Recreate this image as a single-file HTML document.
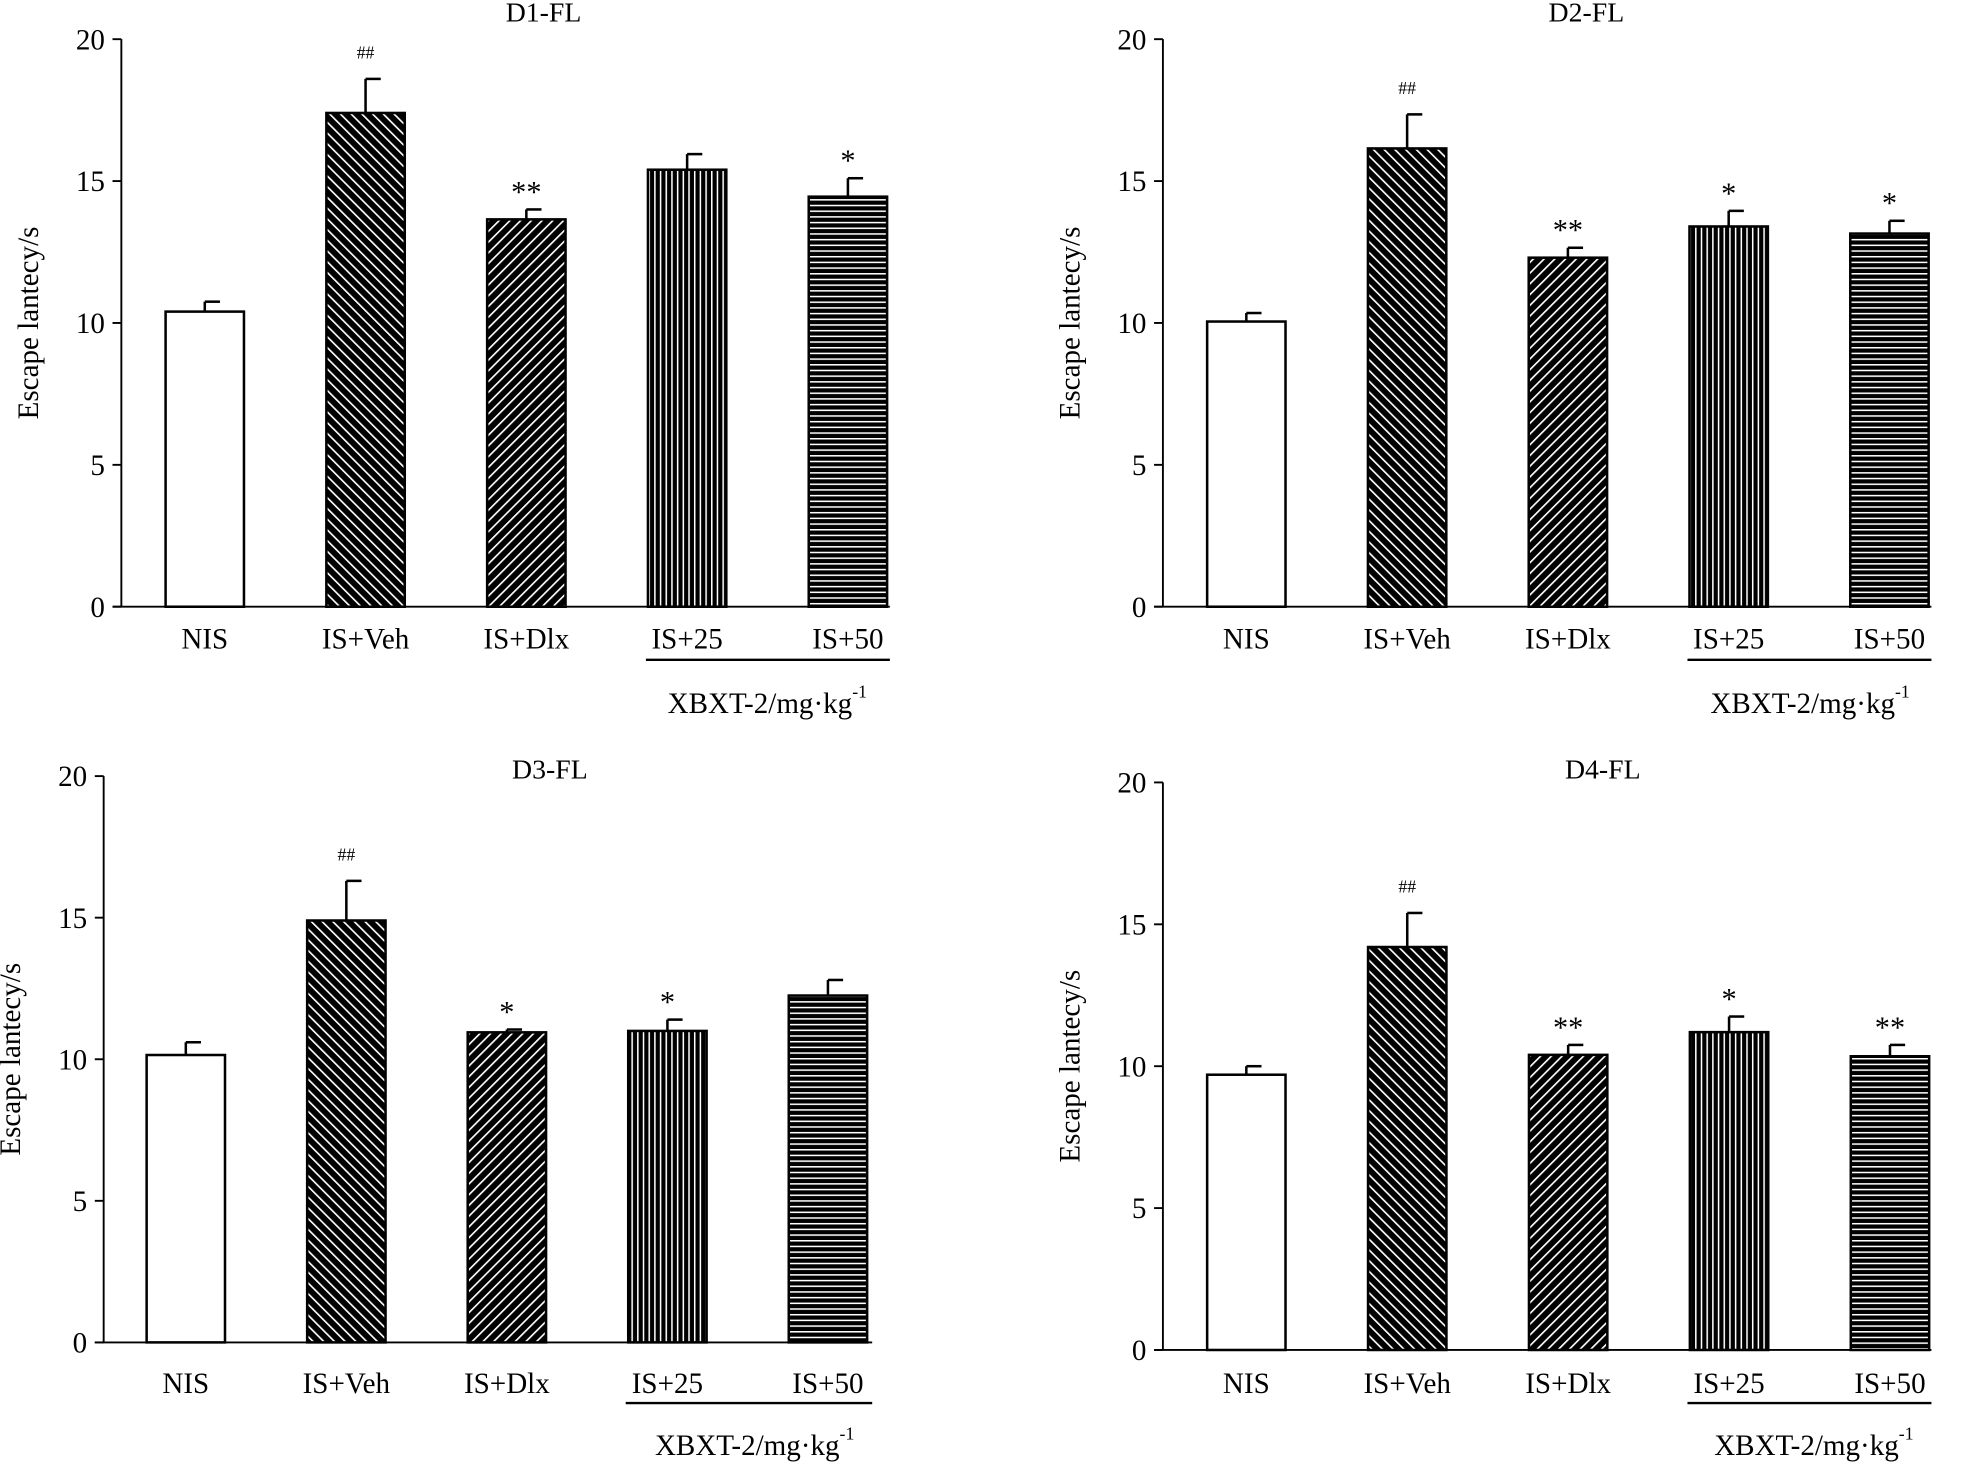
<!DOCTYPE html>
<html><head><meta charset="utf-8"><style>
html,body{margin:0;padding:0;background:#fff}
svg{display:block}
text{font-family:"Liberation Serif",serif;fill:#000}
</style></head><body>
<svg id="fig" width="1982" height="1465" viewBox="0 0 1568 1159" xmlns="http://www.w3.org/2000/svg">
<defs>
<pattern id="pBack" width="6" height="6" patternUnits="userSpaceOnUse" patternTransform="rotate(-45)"><rect width="6" height="6" fill="#000"/><rect x="0" y="0" width="1.3" height="6" fill="#fff"/></pattern>
<pattern id="pFwd" width="6" height="6" patternUnits="userSpaceOnUse" patternTransform="rotate(45)"><rect width="6" height="6" fill="#000"/><rect x="0" y="0" width="1.3" height="6" fill="#fff"/></pattern>
<pattern id="pVert" width="4.5" height="4.5" patternUnits="userSpaceOnUse"><rect width="4.5" height="4.5" fill="#000"/><rect x="0" y="0" width="1.2" height="4.5" fill="#fff"/></pattern>
<pattern id="pHorz" width="4.5" height="4.5" patternUnits="userSpaceOnUse"><rect width="4.5" height="4.5" fill="#000"/><rect x="0" y="0" width="4.5" height="1.2" fill="#fff"/></pattern>
</defs>
</svg>
<script>
const categories = ["NIS","IS+Veh","IS+Dlx","IS+25","IS+50"];
const d1Values = [10.4,17.4,13.65,15.4,14.45];
const d1Errors = [0.35,1.2,0.35,0.55,0.65];
const d2Values = [10.05,16.15,12.3,13.4,13.15];
const d2Errors = [0.3,1.2,0.35,0.55,0.45];
const d3Values = [10.15,14.9,10.95,11.0,12.25];
const d3Errors = [0.45,1.4,0.1,0.4,0.55];
const d4Values = [9.7,14.2,10.4,11.2,10.35];
const d4Errors = [0.3,1.2,0.35,0.55,0.4];
const d1Marks = ["","##","**","","*"];
const d2Marks = ["","##","**","*","*"];
const d3Marks = ["","##","*","*",""];
const d4Marks = ["","##","**","*","**"];
const titles = ["D1-FL","D2-FL","D3-FL","D4-FL"];
const yTicks = [0,5,10,15,20];

const fills = ["#fff","url(#pBack)","url(#pFwd)","url(#pVert)","url(#pHorz)"];
const NS = "http://www.w3.org/2000/svg";
const svg = document.getElementById("fig");
function mk(tag, attrs, parent, txt){
  const e = document.createElementNS(NS, tag);
  for (const k in attrs) e.setAttribute(k, attrs[k]);
  if (txt !== undefined) e.textContent = txt;
  (parent||svg).appendChild(e);
  return e;
}
const panels = [
  {ax:96, y0:480, y20:31, x0:131, step:127.2, bw:62, end:704, tx:430, ty:17, lab:513, ul:522, ulx:[511,704], xb:[607,564], vals:d1Values, errs:d1Errors, marks:d1Marks},
  {ax:920, y0:480, y20:31, x0:955, step:127.2, bw:62, end:1528, tx:1255, ty:17, lab:513, ul:522, ulx:[1335,1528], xb:[1432,564], vals:d2Values, errs:d2Errors, marks:d2Marks},
  {ax:82, y0:1062, y20:614, x0:116, step:127, bw:62, end:690, tx:435, ty:616, lab:1102, ul:1110, ulx:[495,690], xb:[597,1151], vals:d3Values, errs:d3Errors, marks:d3Marks},
  {ax:920, y0:1068, y20:619, x0:955, step:127.3, bw:62, end:1528, tx:1268, ty:616, lab:1102, ul:1110, ulx:[1335,1528], xb:[1435,1151], vals:d4Values, errs:d4Errors, marks:d4Marks}
];
panels.forEach((p, pi) => {
  const g = mk("g", {});
  
  
  const yS = v => p.y0 - (p.y0 - p.y20) * v / 20;
  const t = mk("text", {x:p.tx, y:p.ty, "font-size":22, "text-anchor":"middle"}, g, titles[pi]);
  
  
  const ya = mk("line", {x1:p.ax, y1:p.y20, x2:p.ax, y2:p.y0, stroke:"#000", "stroke-width":1.5}, g);
  
  
  const xa = mk("line", {x1:p.ax-7, y1:p.y0, x2:p.end, y2:p.y0, stroke:"#000", "stroke-width":1.5}, g);
  
  
  yTicks.forEach(v => {
    const tk = mk("line", {x1:p.ax-7, y1:yS(v), x2:p.ax, y2:yS(v), stroke:"#000", "stroke-width":1.5}, g);
    
    
    const tl = mk("text", {x:p.ax-13, y:yS(v)+8, "font-size":23, "text-anchor":"end"}, g, String(v));
    
    
  });
  const yc = (p.y0 + p.y20) / 2;
  const yt = mk("text", {x:0, y:0, "font-size":23, "text-anchor":"middle", transform:`translate(${p.ax-66},${yc}) rotate(-90)`}, g, "Escape lantecy/s");
  
  
  categories.forEach((c, i) => {
    const x = p.x0 + i * p.step;
    const v = p.vals[i], e = p.errs[i];
    const top = yS(v + e);
    const el = mk("line", {x1:x+p.bw/2, y1:top, x2:x+p.bw/2, y2:yS(v), stroke:"#000", "stroke-width":2}, g);
    
    
    const cap = mk("line", {x1:x+p.bw/2, y1:top, x2:x+p.bw/2+12, y2:top, stroke:"#000", "stroke-width":2}, g);
    
    
    const b = mk("rect", {x:x, y:yS(v), width:p.bw, height:p.y0 - yS(v), fill:fills[i], stroke:"#000", "stroke-width":2}, g);
    
    
    const m = p.marks[i];
    if (m) {
      const isHash = m[0] === "#";
      const mt = mk("text", {x:x+p.bw/2, y: top - (isHash ? 16 : 6), "font-size": isHash ? 14 : 24, "text-anchor":"middle"}, g, m);
      
      
    }
    const cl = mk("text", {x:x+p.bw/2, y:p.lab, "font-size":23, "text-anchor":"middle"}, g, c);
    
    
  });
  const ul = mk("line", {x1:p.ulx[0], y1:p.ul, x2:p.ulx[1], y2:p.ul, stroke:"#000", "stroke-width":1.8}, g);
  
  
  const xb = mk("text", {x:p.xb[0], y:p.xb[1], "font-size":23, "text-anchor":"middle"}, g);
  
  
  xb.appendChild(document.createTextNode("XBXT-2/mg\u00B7kg"));
  mk("tspan", {dy:-12, "font-size":14}, xb, "-1");
});
</script>
</body></html>
